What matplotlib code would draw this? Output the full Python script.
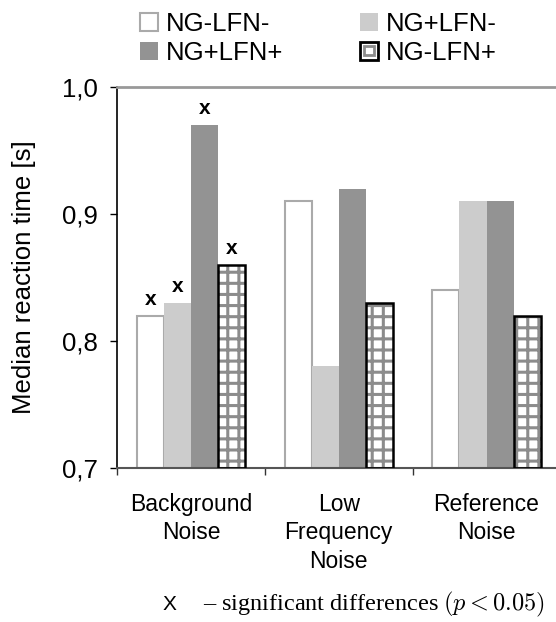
import matplotlib
matplotlib.use("Agg")
from matplotlib import pyplot as plt
from matplotlib.patches import Patch, Rectangle
from matplotlib.legend_handler import HandlerTuple, HandlerPatch
from matplotlib.ticker import FuncFormatter
import matplotlib.hatch as mhatch
import numpy as np

plt.rcParams['font.family'] = ['Liberation Sans', 'DejaVu Sans']
plt.rcParams['mathtext.fontset'] = 'cm'
plt.rcParams['hatch.linewidth'] = 2.2

# coarser grid hatch than the default '+' / '++'
_get_path = mhatch.get_path
mhatch.get_path = lambda pattern, density=6: _get_path(pattern, 9)

# data
categories = ["Background\nNoise", "Low\nFrequency\nNoise", "Reference\nNoise"]
series = ["NG-LFN-", "NG+LFN-", "NG+LFN+", "NG-LFN+"]
ng_lfn_minus = [0.82, 0.91, 0.84]
ngp_lfn_minus = [0.83, 0.78, 0.91]
ngp_lfn_plus = [0.97, 0.92, 0.91]
ng_lfn_plus = [0.86, 0.83, 0.82]
# significant differences marked with "x": (series index, category index)
significant = [(0, 0), (1, 0), (2, 0), (3, 0)]

values = [ng_lfn_minus, ngp_lfn_minus, ngp_lfn_plus, ng_lfn_plus]

fig = plt.figure(figsize=(5.56, 6.22), dpi=100)
ax = fig.add_axes([117/556, 1-468/622, 1-117/556, (468-87)/622])

bw = 0.183
base = 0.7
x = np.arange(len(categories)) + 0.5


def box(inset):
    def f(legend, orig_handle, xdescent, ydescent, width, height, fontsize):
        return Rectangle((-xdescent + inset, -ydescent + inset), width - 2*inset, height - 2*inset)
    return f


outer = Patch(facecolor='white', edgecolor='black', linewidth=2)
inner = Patch(facecolor='none', edgecolor='#8c8c8c', linewidth=2)
handles = []
for j, vals in enumerate(values):
    pos = x + (j - 1.5) * bw
    h = np.array(vals) - base
    if j == 0:
        ax.bar(pos, h, bw, bottom=base, color='white', edgecolor='#aaaaaa', linewidth=1.5, zorder=2)
        handles.append(Patch(facecolor='white', edgecolor='#aaaaaa', linewidth=1.5))
    elif j == 1:
        ax.bar(pos, h, bw, bottom=base, color='#cccccc', linewidth=0, zorder=2)
        handles.append(Patch(facecolor='#cccccc', linewidth=0))
    elif j == 2:
        ax.bar(pos, h, bw, bottom=base, color='#939393', linewidth=0, zorder=2)
        handles.append(Patch(facecolor='#939393', linewidth=0))
    else:
        ax.bar(pos, h, bw, bottom=base, facecolor='white', edgecolor='#8c8c8c', hatch='+', linewidth=0, zorder=2)
        ax.bar(pos, h, bw, bottom=base, facecolor='none', edgecolor='black', linewidth=1.8, zorder=3)
        handles.append((outer, inner))

for j, i in significant:
    xp = x[i] + (j - 1.5) * bw
    ax.annotate('x', (xp, values[j][i]), xytext=(0, 5), textcoords='offset points',
                ha='center', va='bottom', fontsize=15, fontweight='bold')

ax.set_ylim(0.7, 1.0)
ax.set_xlim(0, 2.97)
ax.set_yticks([0.7, 0.8, 0.9, 1.0])
ax.yaxis.set_major_formatter(FuncFormatter(lambda v, p: f"{v:.1f}".replace('.', ',')))
ax.set_xticks([0, 1, 2])
ax.set_xticklabels([])
ax.set_xticks(x, minor=True)
ax.set_xticklabels(categories, minor=True, fontsize=16.5, linespacing=1.3)
ax.tick_params(axis='x', which='minor', length=0, pad=18)
ax.tick_params(axis='x', which='major', length=5, width=1, color='#333333')
ax.tick_params(axis='y', length=5, width=1, labelsize=18.5, pad=9)

ax.spines['right'].set_visible(False)
ax.spines['left'].set_color('black')
ax.spines['left'].set_linewidth(1.2)
ax.spines['bottom'].set_color('#555555')
ax.spines['bottom'].set_linewidth(1.5)
ax.spines['top'].set_color('#999999')
ax.spines['top'].set_linewidth(2)

fig.text(24/556, 1-277/622, "Median reaction time [s]", rotation=90,
         ha='center', va='center', fontsize=18.5)

order = [0, 2, 1, 3]
fig.legend([handles[k] for k in order], [series[k] for k in order],
           handler_map={tuple: HandlerTuple(ndivide=1, pad=0),
                        outer: HandlerPatch(patch_func=box(0)),
                        inner: HandlerPatch(patch_func=box(3))},
           loc='upper left', bbox_to_anchor=(140/556, 1-12/622), ncol=2, frameon=False,
           fontsize=18.5, handlelength=0.7, handleheight=0.7, handletextpad=0.3,
           columnspacing=3.0, labelspacing=0.18, borderpad=0, borderaxespad=0)

fig.text(163/556, 1-604/622, "X", fontsize=15, ha='left', va='center')
fig.text(203/556, 1-604/622, r"– significant differences $(p < 0.05)$",
         fontsize=17.5, ha='left', va='center', family='Liberation Serif')

fig.savefig("out.png", dpi=100)
